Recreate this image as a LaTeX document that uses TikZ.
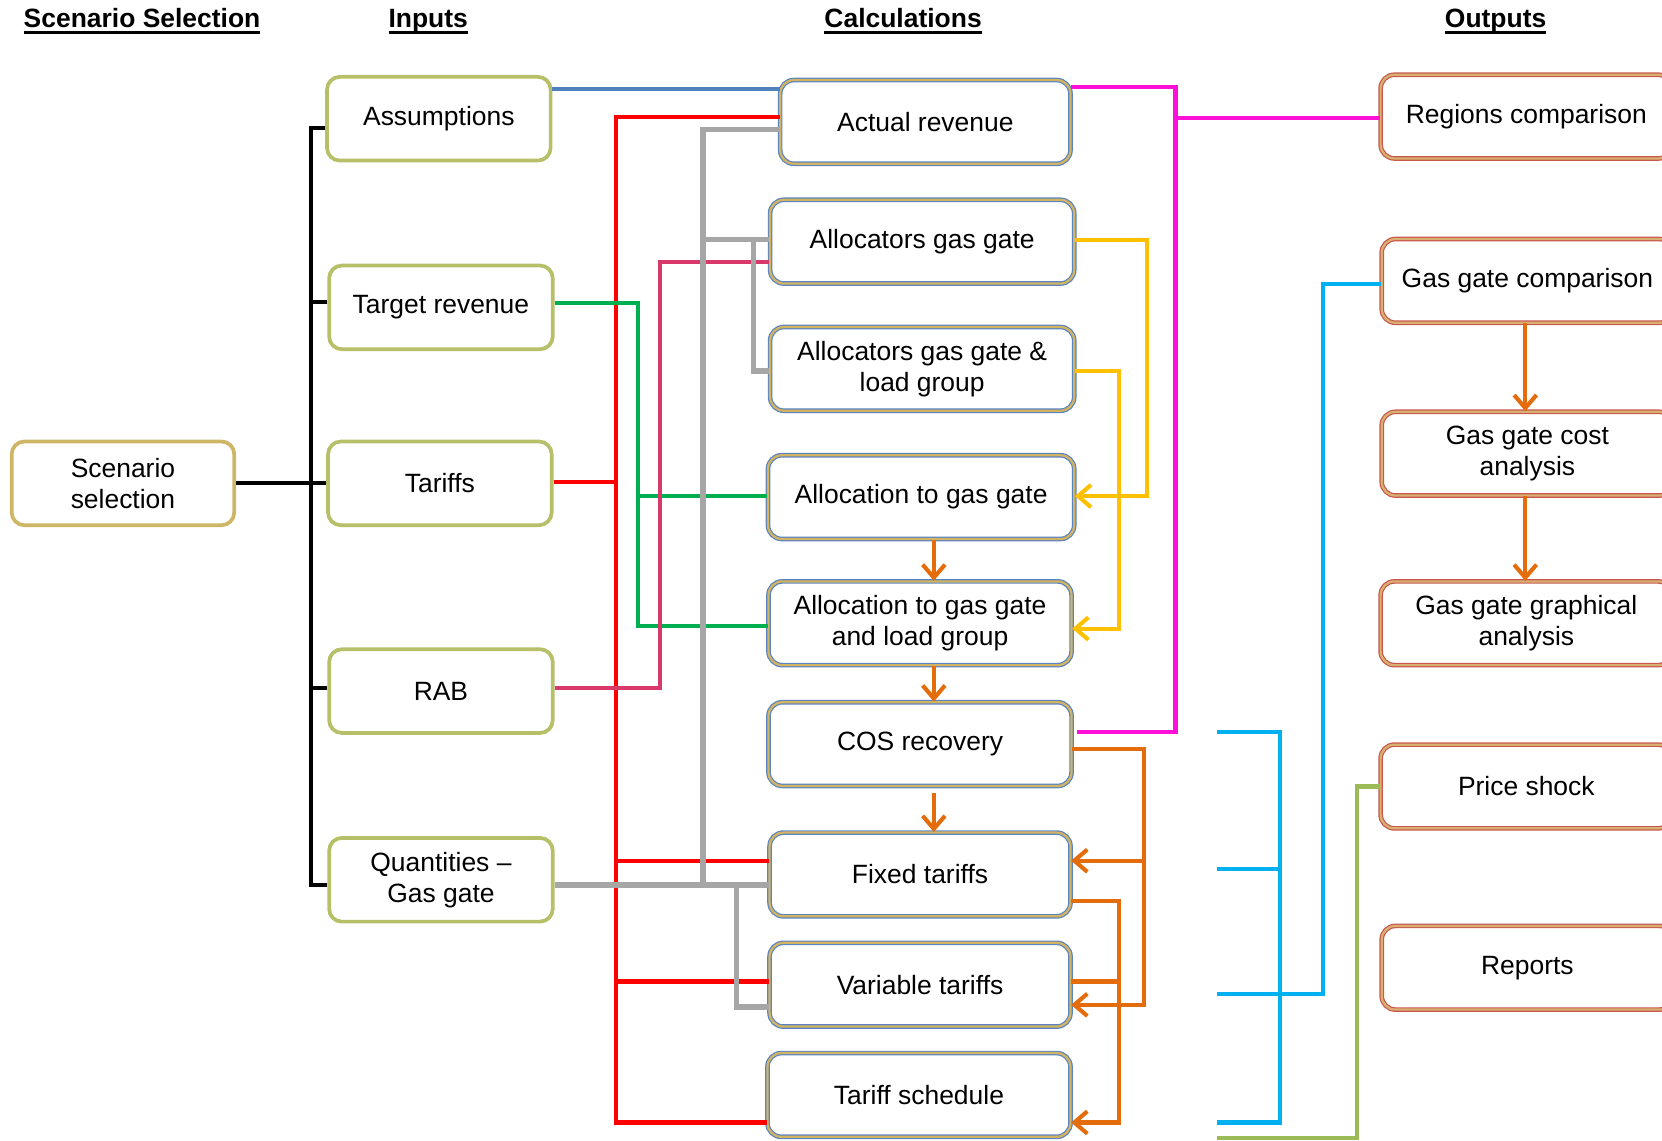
\documentclass[tikz,border=0pt]{standalone}
\usepackage{fontspec}
\setmainfont{Liberation Sans}
\usepackage{tikz}
\usetikzlibrary{arrows.meta, positioning}
\definecolor{inborder}{HTML}{B7BF68}
\definecolor{scenborder}{HTML}{CDB665}
\definecolor{calcblue}{HTML}{5A84C0}
\definecolor{calcgold}{HTML}{D2B462}
\definecolor{outred}{HTML}{C8574E}
\definecolor{outgold}{HTML}{D8B070}
\definecolor{lineblue}{HTML}{4F81BD}
\definecolor{linered}{HTML}{FF0000}
\definecolor{linegreen}{HTML}{00B050}
\definecolor{linerab}{HTML}{D9396A}
\definecolor{linegray}{HTML}{A6A6A6}
\definecolor{lineyellow}{HTML}{FFC000}
\definecolor{lineorange}{HTML}{E46C0A}
\definecolor{linemagenta}{HTML}{FF10D8}
\definecolor{linecyan}{HTML}{00B0F0}
\definecolor{lineolive}{HTML}{9BBB59}
\newcommand{\hdr}[1]{\setbox0\hbox{#1}\rlap{\rule[-3.2pt]{\wd0}{1.3pt}}\box0}

\begin{document}
\begin{tikzpicture}[x=0.02cm, y=-0.02cm,
  every node/.style={font=\fontsize{14.2}{16.6}\selectfont, align=center},
  inbox/.style={draw=inborder, line width=2pt, rounded corners=0.24cm, minimum width=4.22cm, minimum height=1.58cm, inner sep=2pt},
  scenbox/.style={inbox, draw=scenborder},
  calcbox/.style={draw=calcblue, double=calcgold, double distance=1.2pt, line width=0.65pt, rounded corners=0.26cm, minimum width=5.74cm, minimum height=1.58cm, inner sep=2pt},
  outbox/.style={calcbox, draw=outred, double=outgold, minimum width=5.5cm},
  heading/.style={font=\fontsize{14.2}{16.6}\selectfont\bfseries, anchor=base},
  link/.style={line width=2.2pt},
  thick link/.style={line width=3pt},
  arr/.style={-{Straight Barb[length=7pt, width=12pt]}}]
\useasboundingbox (0,0) rectangle (1568,1076);
\clip (0,0) rectangle (1568,1076);

% headings
\node[heading] (hscen) at (134,26) {\hdr{Scenario Selection}};
\node[heading] (hin) at (404,26) {\hdr{Inputs}};
\node[heading] (hcalc) at (852,26) {\hdr{Calculations}};
\node[heading] (hout) at (1411,26) {\hdr{Outputs}};

% scenario and inputs
\node[scenbox, minimum width=4.2cm] (scen) at (116,456) {Scenario\\selection};
\node[inbox] (assum) at (414,112) {Assumptions};
\node[inbox] (target) at (416,290) {Target revenue};
\node[inbox] (tariffs) at (415,456) {Tariffs};
\node[inbox] (rab) at (416,652) {RAB};
\node[inbox] (quant) at (416,830) {Quantities --\\Gas gate};

% calculations
\node[calcbox, minimum width=5.48cm] (actrev) at (873,115) {Actual revenue};
\node[calcbox] (allocgg) at (870,228) {Allocators gas gate};
\node[calcbox] (allocgglg) at (870,348) {Allocators gas gate \&\\load group};
\node[calcbox, minimum width=5.78cm] (alloctogg) at (869,469) {Allocation to gas gate};
\node[calcbox, minimum width=5.72cm] (alloctogglg) at (868,588) {Allocation to gas gate\\and load group};
\node[calcbox, minimum width=5.72cm] (cosrec) at (868,702) {COS recovery};
\node[calcbox, minimum width=5.68cm] (fixtar) at (868,825) {Fixed tariffs};
\node[calcbox, minimum width=5.68cm] (vartar) at (868,929) {Variable tariffs};
\node[calcbox, minimum width=5.72cm] (tarsched) at (867,1033) {Tariff schedule};

% outputs
\node[outbox] (regcomp) at (1440,110) {Regions comparison};
\node[outbox] (ggcomp) at (1441,265) {Gas gate comparison};
\node[outbox] (ggcost) at (1441,428) {Gas gate cost\\analysis};
\node[outbox] (gggraph) at (1440,588) {Gas gate graphical\\analysis};
\node[outbox] (pshock) at (1440,742) {Price shock};
\node[outbox] (reports) at (1441,913) {Reports};

% bus positions
\coordinate (tree) at (293,0);
\coordinate (redbus) at (581,0);
\coordinate (greenbus) at (602,0);
\coordinate (rabbus) at (623,0);
\coordinate (graybus) at (663,0);
\coordinate (graybusb) at (695,0);
\coordinate (graybusc) at (711,0);
\coordinate (orgx) at (881,0);
\coordinate (ylwa) at (1082,0);
\coordinate (ylwb) at (1056,0);
\coordinate (orga) at (1079,0);
\coordinate (orgb) at (1056,0);
\coordinate (magbus) at (1109,0);
\coordinate (cyanbus) at (1208,0);
\coordinate (cyanbusb) at (1248,0);
\coordinate (olivebus) at (1280,0);
\coordinate (cyana) at (1148,691);
\coordinate (cyanb) at (1148,820);
\coordinate (cyanc) at (1148,938);
\coordinate (cyand) at (1148,1059);
\coordinate (olivea) at (1148,1074);

% scenario tree
\draw[link, black] (scen.east) -- (scen.east -| tree);
\draw[link, black] (assum.west |- 0,121) -- (tree |- 0,121) -- (tree |- 0,835) -- (quant.west |- 0,835);
\draw[link, black] (target.west |- 0,285) -- (tree |- 0,285);
\draw[link, black] (tariffs.west) -- (tariffs.west -| tree);
\draw[link, black] (rab.west |- 0,649) -- (tree |- 0,649);

% inputs to calculations
\draw[link, lineblue] (assum.east |- 0,84) -- (actrev.west |- 0,84);
\draw[link, linered] (tariffs.east |- 0,455) -- (redbus |- 0,455);
\draw[link, linered] (actrev.west |- 0,110) -| (redbus |- 0,1059) -- (tarsched.west |- 0,1059);
\draw[link, linered] (fixtar.west |- 0,812) -- (redbus |- 0,812);
\draw[link, linered] (vartar.west |- 0,926) -- (redbus |- 0,926);
\draw[link, linegreen] (target.east |- 0,286) -| (greenbus |- 0,591) -- (alloctogglg.west |- 0,591);
\draw[link, linegreen] (greenbus |- 0,468) -- (alloctogg.west |- 0,468);
\draw[link, linerab] (rab.east |- 0,649) -| (rabbus |- 0,247) -- (allocgg.west |- 0,247);
\draw[thick link, linegray] (quant.east |- 0,835) -- (fixtar.west |- 0,835);
\draw[thick link, linegray] (graybus |- 0,835) -- (graybus |- 0,122) -- (actrev.west |- 0,122);
\draw[thick link, linegray] (graybus |- 0,226) -- (allocgg.west |- 0,226);
\draw[thick link, linegray] (graybusc |- 0,226) |- (allocgglg.west |- 0,350);
\draw[thick link, linegray] (graybusb |- 0,835) |- (vartar.west |- 0,950);

% within calculations
\draw[link, lineyellow, arr] (allocgg.east |- 0,226) -| (ylwa |- 0,468) -- (alloctogg.east |- 0,468);
\draw[link, lineyellow, arr] (allocgglg.east |- 0,350) -| (ylwb |- 0,593) -- (alloctogglg.east |- 0,593);
\draw[link, lineorange, arr] (alloctogg.south -| orgx) -- (alloctogglg.north -| orgx);
\draw[link, lineorange, arr] (alloctogglg.south -| orgx) -- (cosrec.north -| orgx);
\draw[link, lineorange, arr] (orgx |- 0,748) -- (fixtar.north -| orgx);
\draw[link, lineorange, arr] (cosrec.east |- 0,707) -| (orga |- 0,948) -- (vartar.east |- 0,948);
\draw[link, lineorange, arr] (orga |- 0,812) -- (fixtar.east |- 0,812);
\draw[link, lineorange, arr] (fixtar.east |- 0,850) -| (orgb |- 0,1059) -- (tarsched.east |- 0,1059);
\draw[link, lineorange] (vartar.east |- 0,926) -- (orgb |- 0,926);

% to outputs
\draw[link, linemagenta] (actrev.east |- 0,82) -| (magbus |- 0,691) -- (1016,691);
\draw[link, linemagenta] (magbus |- 0,111) -- (regcomp.west |- 0,111);
\draw[link, linecyan] (cyana) -| (cyanbus |- cyand) -- (cyand);
\draw[link, linecyan] (cyanb) -- (cyanb -| cyanbus);
\draw[link, linecyan] (cyanc) -| (cyanbusb |- 0,268) -- (ggcomp.west |- 0,268);
\draw[link, lineolive] (olivea) -| (olivebus |- pshock.west) -- (pshock.west);
\draw[link, lineorange, arr] (ggcomp.south -| 1439,0) -- (ggcost.north -| 1439,0);
\draw[link, lineorange, arr] (ggcost.south -| 1439,0) -- (gggraph.north -| 1439,0);
\end{tikzpicture}
\end{document}
